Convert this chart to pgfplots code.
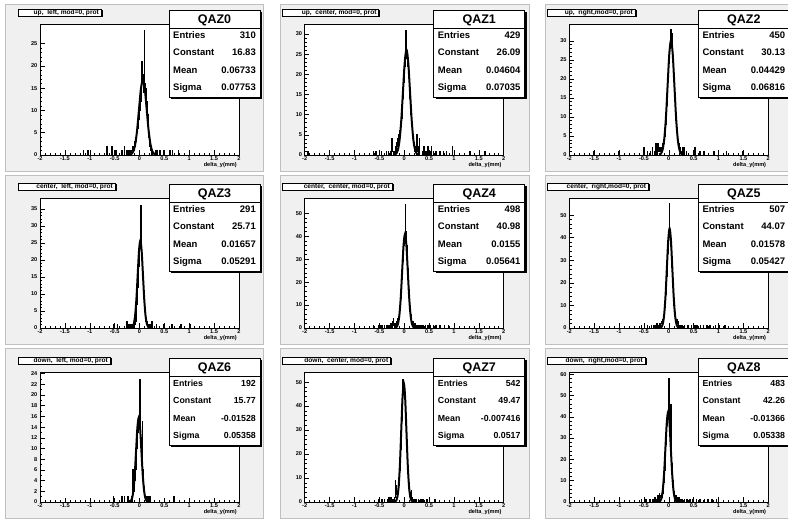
\documentclass[border=0pt]{standalone}
\usepackage{fontspec}
\setmainfont{Liberation Sans}
\usepackage{pgfplots}
\pgfplotsset{compat=1.18}
\newcommand{\titlefont}{\fontsize{6.6}{6.6}\selectfont\bfseries}
\newcommand{\headfont}{\fontsize{12.5}{12.5}\selectfont\bfseries}
\newcommand{\statfontA}{\fontsize{9.5}{9.5}\selectfont\bfseries}
\newcommand{\statfontB}{\fontsize{8.8}{8.8}\selectfont\bfseries}
\let\statfont\statfontA
\newcommand{\deco}[9]{%
 \begin{scope}[shift={(#1pt,-#2pt)}]
  \fill[black] (-20.5pt,13.5pt) rectangle ({#3pt+1.5pt},6.5pt);
  \filldraw[fill=white,draw=black,line width=0.5pt] (-22pt,15pt) rectangle (#3pt,8pt);
  \node[anchor=base east,inner sep=0pt,font=\titlefont] at ({#3pt-2pt},9.4pt) {#4};
  \fill[black] (131pt,12pt) rectangle (222pt,-75pt);
  \filldraw[fill=white,draw=black,line width=0.5pt] (129pt,14pt) rectangle (220pt,-73pt);
  \draw[line width=0.5pt] (129pt,-4pt) -- (220pt,-4pt);
  \node[anchor=base,font=\headfont,inner sep=0pt] at (174.5pt,0.3pt) {#5};
  \node[anchor=base west,font=\statfont,inner sep=0pt] at (133pt,-14.4pt) {Entries};
  \node[anchor=base east,font=\statfont,inner sep=0pt] at (216pt,-14.4pt) {#6};
  \node[anchor=base west,font=\statfont,inner sep=0pt] at (133pt,-31.9pt) {Constant};
  \node[anchor=base east,font=\statfont,inner sep=0pt] at (216pt,-31.9pt) {#7};
  \node[anchor=base west,font=\statfont,inner sep=0pt] at (133pt,-49.4pt) {Mean};
  \node[anchor=base east,font=\statfont,inner sep=0pt] at (216pt,-49.4pt) {#8};
  \node[anchor=base west,font=\statfont,inner sep=0pt] at (133pt,-66.4pt) {Sigma};
  \node[anchor=base east,font=\statfont,inner sep=0pt] at (216pt,-66.4pt) {#9};
 \end{scope}}
\pgfplotsset{
 rootaxis/.style={
  scale only axis, width=199pt, height=130pt,
  xmin=-2, xmax=2, ymin=0,
  axis background/.style={fill=white},
  axis line style={line width=0.7pt},
  tick pos=left, tick align=inside,
  xtick={-2,-1.5,-1,-0.5,0,0.5,1,1.5,2},
  xticklabels={-2,-1.5,-1,-0.5,0,0.5,1,1.5,2},
  minor x tick num=4,
  major tick length=4.5pt, minor tick length=2.2pt,
  tick style={line width=0.5pt, black},
  tick label style={font=\fontsize{5.6}{5.6}\selectfont\bfseries},
  /pgf/number format/assume math mode=true,
  xticklabel style={inner sep=0pt, yshift=-1.5pt},
  yticklabel style={inner sep=0pt, xshift=-2.5pt},
  xlabel={delta\_y(mm)},
  xlabel style={at={(rel axis cs:1,0)}, anchor=north east, yshift=-7.5pt, xshift=-2pt, inner sep=0pt, font=\fontsize{5.6}{5.6}\selectfont\bfseries},
 },
 hist/.style={const plot, black, line width=0.9pt, mark=none},
 fitc/.style={smooth, black, line width=2pt, mark=none},
}
\begin{document}
\begin{tikzpicture}
\useasboundingbox (0,0) rectangle (788pt,-521pt);
\clip (0,0) rectangle (788pt,-521pt);
\fill[white] (0,0) rectangle (788pt,-521pt);
% pads
\foreach \xa/\xb in {5/263.5,280/529,545/795}{
 \foreach \ya/\yb in {4/171,175/344,348/518}{
  \filldraw[fill=black!6,draw=black!25,line width=0.6pt] (\xa pt,-\ya pt) rectangle (\xb pt,-\yb pt);
 }}
% ---------------- QAZ0
\begin{axis}[rootaxis, at={(40pt,-24pt)}, anchor=north west, height=131pt, ymax=29.4, ytick={0,5,10,15,20,25}, minor y tick num=4]
\addplot[hist] coordinates {(-2,0) (-1.13,1) (-1.12,0) (-1.04,1) (-1.03,0) (-0.66,2) (-0.65,0) (-0.56,2) (-0.55,0) (-0.48,1) (-0.47,0) (-0.36,1) (-0.35,0) (-0.31,2) (-0.30,0) (-0.27,1) (-0.26,0) (-0.24,1) (-0.23,0)
(-0.20,1) (-0.19,0) (-0.18,1) (-0.17,0) (-0.16,1) (-0.15,1) (-0.14,2) (-0.13,1) (-0.12,2) (-0.11,1) (-0.10,3) (-0.09,2) (-0.08,4) (-0.07,3) (-0.06,5) (-0.05,7) (-0.04,6) (-0.03,9) (-0.02,8) (-0.01,11) (0.00,10) (0.01,13) (0.02,12) (0.03,15) (0.04,21) (0.05,16) (0.06,18) (0.07,17) (0.08,14) (0.09,28) (0.10,16) (0.11,13) (0.12,15) (0.13,10) (0.14,12) (0.15,8) (0.16,9) (0.17,6) (0.18,4) (0.19,5) (0.20,2) (0.21,3) (0.22,1) (0.23,2) (0.24,1) (0.25,0) (0.26,1) (0.27,0)
(0.33,1) (0.34,0) (0.36,1) (0.37,0) (0.41,1) (0.42,0) (0.48,1) (0.49,0) (0.61,1) (0.62,0) (0.66,1) (0.67,0) (0.78,1) (0.79,0) (2,0)};
\addplot[fitc] coordinates {(-0.2040,0.04) (-0.1653,0.19) (-0.1265,0.74) (-0.0877,2.28) (-0.0490,5.46) (-0.0102,10.21) (0.0286,14.85) (0.0673,16.83) (0.1061,14.85) (0.1449,10.21) (0.1836,5.46) (0.2224,2.28) (0.2612,0.74) (0.2999,0.19) (0.3387,0.04)};
\end{axis}
% ---------------- QAZ1
\begin{axis}[rootaxis, at={(304.7pt,-24pt)}, anchor=north west, height=131pt, ymax=32.5, ytick={0,5,10,15,20,25,30}, minor y tick num=4]
\addplot[hist] coordinates {(-2,0) (-1.94,1) (-1.93,0) (-0.62,1) (-0.61,0) (-0.57,1) (-0.56,0) (-0.46,1) (-0.45,0) (-0.36,1) (-0.35,0) (-0.32,1) (-0.31,0) (-0.28,1) (-0.26,0)
(-0.25,4) (-0.24,1) (-0.23,1) (-0.22,0) (-0.21,1) (-0.20,1) (-0.19,0) (-0.18,2) (-0.17,1) (-0.16,2) (-0.15,3) (-0.14,2) (-0.13,4) (-0.12,3) (-0.11,5) (-0.10,4) (-0.09,6) (-0.08,8) (-0.07,7) (-0.06,10) (-0.05,9) (-0.04,13) (-0.03,15) (-0.02,14) (-0.01,18) (0.00,20) (0.01,22) (0.02,25) (0.03,31) (0.04,27) (0.05,24) (0.06,26) (0.07,22) (0.08,21) (0.09,19) (0.10,16) (0.11,14) (0.12,12) (0.13,10) (0.14,8) (0.15,7) (0.16,5) (0.17,4) (0.18,3) (0.19,3) (0.20,2) (0.21,1) (0.22,2) (0.23,1) (0.24,0) (0.25,5) (0.26,1) (0.27,2) (0.28,0) (0.29,1) (0.30,4) (0.31,0)
(0.36,1) (0.37,0) (0.39,2) (0.40,0) (0.43,1) (0.44,0) (0.47,2) (0.48,0) (0.51,1) (0.52,0) (0.54,2) (0.55,0) (0.58,1) (0.59,0) (0.63,1) (0.64,0) (0.71,1) (0.72,0) (0.78,1) (0.79,0) (0.84,1) (0.85,0) (0.96,2) (0.97,0) (1.32,1) (1.33,0) (1.62,1) (1.63,0) (2,0)};
\addplot[fitc] coordinates {(-0.2002,0.06) (-0.1650,0.29) (-0.1298,1.15) (-0.0947,3.53) (-0.0595,8.47) (-0.0243,15.82) (0.0109,23.02) (0.0460,26.09) (0.0812,23.02) (0.1164,15.82) (0.1516,8.47) (0.1867,3.53) (0.2219,1.15) (0.2571,0.29) (0.2923,0.06)};
\end{axis}
% ---------------- QAZ2
\begin{axis}[rootaxis, at={(569.3pt,-24pt)}, anchor=north west, height=131pt, ymax=34.4, ytick={0,5,10,15,20,25,30}, minor y tick num=4]
\addplot[hist] coordinates {(-2,0) (-1.51,1) (-1.50,0) (-1.01,1) (-1.00,0) (-0.50,2) (-0.49,0) (-0.43,1) (-0.42,0) (-0.37,1) (-0.36,0) (-0.33,2) (-0.32,0) (-0.29,1) (-0.28,0)
(-0.26,3) (-0.25,1) (-0.24,0) (-0.23,2) (-0.22,3) (-0.21,1) (-0.20,2) (-0.19,1) (-0.18,1) (-0.17,2) (-0.16,1) (-0.15,1) (-0.14,2) (-0.13,3) (-0.12,2) (-0.11,3) (-0.10,3) (-0.09,5) (-0.08,5) (-0.07,7) (-0.06,8) (-0.05,10) (-0.04,13) (-0.03,16) (-0.02,19) (-0.01,21) (0.00,24) (0.01,26) (0.02,28) (0.03,29) (0.04,33) (0.05,30) (0.06,32) (0.07,27) (0.08,25) (0.09,22) (0.10,20) (0.11,17) (0.12,14) (0.13,12) (0.14,9) (0.15,8) (0.16,6) (0.17,5) (0.18,4) (0.19,3) (0.20,2) (0.21,3) (0.22,1) (0.23,2) (0.24,1) (0.25,0) (0.26,1) (0.27,2) (0.28,0)
(0.30,2) (0.31,0) (0.35,1) (0.36,0) (0.52,2) (0.53,0) (0.62,1) (0.63,0) (0.70,1) (0.71,0) (0.90,1) (0.91,0) (1.15,1) (1.16,0) (1.48,1) (1.49,0) (2,0)};
\addplot[fitc] coordinates {(-0.1943,0.07) (-0.1602,0.33) (-0.1261,1.32) (-0.0920,4.08) (-0.0580,9.78) (-0.0239,18.27) (0.0102,26.59) (0.0443,30.13) (0.0784,26.59) (0.1125,18.27) (0.1465,9.78) (0.1806,4.08) (0.2147,1.32) (0.2488,0.33) (0.2829,0.07)};
\end{axis}
% ---------------- QAZ3
\begin{axis}[rootaxis, at={(40pt,-198pt)}, anchor=north west, height=130pt, ymax=38.2, ytick={0,5,10,15,20,25,30,35}, minor y tick num=4]
\addplot[hist] coordinates {(-2,0) (-0.53,1) (-0.52,0) (-0.45,1) (-0.44,0) (-0.26,2) (-0.25,0) (-0.23,1) (-0.22,0) (-0.20,1) (-0.19,0)
(-0.16,1) (-0.15,0) (-0.14,1) (-0.13,1) (-0.12,0) (-0.11,2) (-0.10,1) (-0.09,3) (-0.08,2) (-0.07,5) (-0.06,7) (-0.05,9) (-0.04,12) (-0.03,15) (-0.02,18) (-0.01,21) (0.00,24) (0.01,25) (0.02,36) (0.03,24) (0.04,22) (0.05,19) (0.06,16) (0.07,13) (0.08,9) (0.09,7) (0.10,5) (0.11,3) (0.12,2) (0.13,3) (0.14,1) (0.15,2) (0.16,1) (0.17,0) (0.18,1) (0.19,0)
(0.22,1) (0.23,0) (0.25,2) (0.26,0) (0.34,1) (0.35,0) (0.48,1) (0.49,0) (0.64,1) (0.65,0) (0.66,1) (0.67,0) (0.83,1) (0.84,0) (1.02,1) (1.03,0) (2,0)};
\addplot[fitc] coordinates {(-0.1686,0.06) (-0.1422,0.29) (-0.1157,1.13) (-0.0893,3.48) (-0.0628,8.35) (-0.0363,15.59) (-0.0099,22.69) (0.0166,25.71) (0.0430,22.69) (0.0695,15.59) (0.0959,8.35) (0.1224,3.48) (0.1488,1.13) (0.1753,0.29) (0.2018,0.06)};
\end{axis}
% ---------------- QAZ4
\begin{axis}[rootaxis, at={(304.7pt,-198pt)}, anchor=north west, height=130pt, ymax=56.7, ytick={0,10,20,30,40,50}, minor y tick num=4]
\addplot[hist] coordinates {(-2,0) (-0.62,1) (-0.61,0) (-0.51,1) (-0.50,0) (-0.47,1) (-0.46,0) (-0.44,1) (-0.43,0) (-0.40,1) (-0.39,0) (-0.36,1) (-0.35,0) (-0.33,1) (-0.32,0) (-0.30,1) (-0.29,0) (-0.27,2) (-0.26,0) (-0.24,3) (-0.23,1) (-0.22,4) (-0.21,1) (-0.20,2) (-0.19,0)
(-0.18,1) (-0.17,2) (-0.16,1) (-0.15,3) (-0.14,2) (-0.13,4) (-0.12,3) (-0.11,5) (-0.10,6) (-0.09,8) (-0.08,10) (-0.07,13) (-0.06,17) (-0.05,21) (-0.04,25) (-0.03,29) (-0.02,33) (-0.01,36) (0.00,39) (0.01,40) (0.02,54) (0.03,42) (0.04,38) (0.05,36) (0.06,31) (0.07,26) (0.08,22) (0.09,17) (0.10,13) (0.11,10) (0.12,8) (0.13,6) (0.14,4) (0.15,3) (0.16,2) (0.17,3) (0.18,1) (0.19,2) (0.20,1) (0.21,0)
(0.22,2) (0.23,0) (0.24,1) (0.25,0) (0.27,1) (0.28,0) (0.31,1) (0.32,0) (0.35,1) (0.36,0) (0.38,1) (0.39,0) (0.42,1) (0.43,0) (0.47,1) (0.48,0) (0.52,1) (0.53,0) (0.58,1) (0.59,0) (0.63,1) (0.64,0) (0.71,1) (0.72,0) (0.80,1) (0.81,0) (0.88,1) (0.89,0) (2,0)};
\addplot[fitc] coordinates {(-0.1819,0.09) (-0.1537,0.45) (-0.1255,1.80) (-0.0973,5.54) (-0.0691,13.31) (-0.0409,24.85) (-0.0127,36.16) (0.0155,40.98) (0.0437,36.16) (0.0719,24.85) (0.1001,13.31) (0.1283,5.54) (0.1565,1.80) (0.1847,0.45) (0.2129,0.09)};
\end{axis}
% ---------------- QAZ5
\begin{axis}[rootaxis, at={(569.3pt,-198pt)}, anchor=north west, height=130pt, ymax=57.6, ytick={0,10,20,30,40,50}, minor y tick num=4]
\addplot[hist] coordinates {(-2,0) (-0.55,1) (-0.54,0) (-0.43,1) (-0.42,0) (-0.35,1) (-0.34,0) (-0.30,1) (-0.29,0) (-0.27,1) (-0.26,0) (-0.24,2) (-0.23,0) (-0.21,1) (-0.20,0) (-0.19,2) (-0.18,0)
(-0.17,1) (-0.16,2) (-0.15,2) (-0.14,3) (-0.13,2) (-0.12,4) (-0.11,3) (-0.10,6) (-0.09,7) (-0.08,9) (-0.07,12) (-0.06,15) (-0.05,19) (-0.04,23) (-0.03,27) (-0.02,33) (-0.01,37) (0.00,41) (0.01,55) (0.02,43) (0.03,40) (0.04,36) (0.05,32) (0.06,27) (0.07,22) (0.08,18) (0.09,14) (0.10,10) (0.11,8) (0.12,6) (0.13,5) (0.14,4) (0.15,3) (0.16,4) (0.17,2) (0.18,3) (0.19,1) (0.20,0)
(0.22,1) (0.23,0) (0.26,1) (0.27,0) (0.31,1) (0.32,0) (0.38,1) (0.39,0) (0.45,1) (0.46,0) (0.52,1) (0.53,0) (0.56,1) (0.57,0) (0.63,1) (0.64,0) (0.69,1) (0.70,0) (0.76,1) (0.77,0) (0.82,1) (0.83,0) (0.93,1) (0.94,0) (1.01,1) (1.02,0) (1.12,1) (1.13,0) (2,0)};
\addplot[fitc] coordinates {(-0.1742,0.10) (-0.1470,0.49) (-0.1199,1.93) (-0.0928,5.96) (-0.0656,14.31) (-0.0385,26.73) (-0.0114,38.89) (0.0158,44.07) (0.0429,38.89) (0.0701,26.73) (0.0972,14.31) (0.1243,5.96) (0.1515,1.93) (0.1786,0.49) (0.2057,0.10)};
\end{axis}
% ---------------- QAZ6
\begin{axis}[rootaxis, at={(40pt,-372pt)}, anchor=north west, height=130pt, ymax=24.3, ytick={0,2,4,6,8,10,12,14,16,18,20,22,24}, minor y tick num=1]
\addplot[hist] coordinates {(-2,0) (-0.53,1) (-0.52,0) (-0.36,1) (-0.34,0) (-0.31,1) (-0.30,0) (-0.24,1) (-0.23,0)
(-0.17,1) (-0.16,0) (-0.15,1) (-0.14,6) (-0.13,2) (-0.12,3) (-0.11,2) (-0.10,4) (-0.09,5) (-0.08,6) (-0.07,8) (-0.06,10) (-0.05,12) (-0.04,13) (-0.03,15) (-0.02,14) (-0.01,16) (0.00,23) (0.01,13) (0.02,12) (0.03,10) (0.04,8) (0.05,15) (0.06,6) (0.07,4) (0.08,3) (0.09,2) (0.10,1) (0.11,1) (0.12,1) (0.13,0) (0.14,1) (0.15,1) (0.16,0)
(0.18,1) (0.19,0) (0.20,1) (0.21,0) (0.22,1) (0.23,0) (0.69,1) (0.70,0) (2,0)};
\addplot[fitc] coordinates {(-0.2028,0.03) (-0.1760,0.18) (-0.1492,0.69) (-0.1224,2.13) (-0.0957,5.12) (-0.0689,9.56) (-0.0421,13.92) (-0.0153,15.77) (0.0115,13.92) (0.0383,9.56) (0.0651,5.12) (0.0919,2.13) (0.1187,0.69) (0.1455,0.18) (0.1723,0.03)};
\end{axis}
% ---------------- QAZ7
\begin{axis}[rootaxis, at={(304.7pt,-372pt)}, anchor=north west, height=130pt, ymax=54.2, ytick={0,10,20,30,40,50}, minor y tick num=4]
\addplot[hist] coordinates {(-2,0) (-0.52,1) (-0.51,0) (-0.45,1) (-0.44,0) (-0.40,1) (-0.39,0) (-0.34,1) (-0.33,0) (-0.31,2) (-0.30,0) (-0.27,2) (-0.26,0) (-0.24,1) (-0.23,0) (-0.22,1) (-0.21,0)
(-0.19,2) (-0.18,9) (-0.17,4) (-0.16,7) (-0.15,3) (-0.14,3) (-0.13,4) (-0.12,5) (-0.11,7) (-0.10,9) (-0.09,13) (-0.08,17) (-0.07,22) (-0.06,28) (-0.05,34) (-0.04,42) (-0.03,51) (-0.02,50) (-0.01,46) (0.00,47) (0.01,44) (0.02,41) (0.03,36) (0.04,31) (0.05,25) (0.06,20) (0.07,15) (0.08,11) (0.09,8) (0.10,5) (0.11,4) (0.12,2) (0.13,2) (0.14,5) (0.15,1) (0.16,2) (0.17,1) (0.18,0)
(0.19,1) (0.20,0) (0.21,1) (0.22,0) (0.24,1) (0.25,0) (0.28,1) (0.29,0) (0.33,1) (0.34,0) (0.37,1) (0.38,0) (0.45,1) (0.46,0) (0.61,1) (0.62,0) (2,0)};
\addplot[fitc] coordinates {(-0.1884,0.11) (-0.1625,0.55) (-0.1367,2.17) (-0.1108,6.69) (-0.0850,16.06) (-0.0591,30.00) (-0.0333,43.66) (-0.0074,49.47) (0.0184,43.66) (0.0443,30.00) (0.0701,16.06) (0.0960,6.69) (0.1218,2.17) (0.1477,0.55) (0.1735,0.11)};
\end{axis}
% ---------------- QAZ8
\begin{axis}[rootaxis, at={(569.3pt,-372pt)}, anchor=north west, height=130pt, ymax=61, ytick={0,10,20,30,40,50,60}, minor y tick num=4]
\addplot[hist] coordinates {(-2,0) (-0.55,1) (-0.54,0) (-0.46,1) (-0.45,0) (-0.38,1) (-0.37,0) (-0.32,1) (-0.31,0) (-0.28,2) (-0.27,0) (-0.25,1) (-0.24,0) (-0.22,3) (-0.21,1) (-0.20,0)
(-0.19,4) (-0.18,2) (-0.17,3) (-0.16,2) (-0.15,3) (-0.14,2) (-0.13,3) (-0.12,4) (-0.11,6) (-0.10,9) (-0.09,12) (-0.08,15) (-0.07,20) (-0.06,27) (-0.05,32) (-0.04,36) (-0.03,40) (-0.02,41) (-0.01,40) (0.00,58) (0.01,39) (0.02,36) (0.03,32) (0.04,46) (0.05,23) (0.06,18) (0.07,13) (0.08,10) (0.09,7) (0.10,5) (0.11,4) (0.12,3) (0.13,2) (0.14,3) (0.15,1) (0.16,2) (0.17,1) (0.18,0)
(0.20,2) (0.21,0) (0.22,1) (0.23,0) (0.26,1) (0.27,0) (0.31,1) (0.32,0) (0.36,1) (0.37,0) (0.42,1) (0.43,0) (0.48,1) (0.49,0) (0.55,1) (0.56,0) (0.62,1) (0.63,0) (0.71,1) (0.72,0) (0.78,1) (0.79,0) (0.86,1) (0.87,0) (0.95,1) (0.96,0) (2,0)};
\addplot[fitc] coordinates {(-0.2005,0.09) (-0.1738,0.47) (-0.1471,1.86) (-0.1204,5.72) (-0.0937,13.72) (-0.0671,25.63) (-0.0404,37.29) (-0.0137,42.26) (0.0130,37.29) (0.0397,25.63) (0.0664,13.72) (0.0931,5.72) (0.1198,1.86) (0.1465,0.47) (0.1732,0.09)};
\end{axis}
% ---------------- boxes
\deco{40}{24}{61}{up,\ \ left, mod=0, prot}{QAZ0}{310}{16.83}{0.06733}{0.07753}
\deco{304.7}{24}{74}{up,\ \ center, mod=0, prot}{QAZ1}{429}{26.09}{0.04604}{0.07035}
\deco{569.3}{24}{65.7}{up,\ \ right,mod=0, prot}{QAZ2}{450}{30.13}{0.04429}{0.06816}
\deco{40}{198}{75}{center,\ \ left, mod=0, prot}{QAZ3}{291}{25.71}{0.01657}{0.05291}
\deco{304.7}{198}{87.3}{center,\ \ center, mod=0, prot}{QAZ4}{498}{40.98}{0.0155}{0.05641}
\deco{569.3}{198}{79}{center,\ \ right,mod=0, prot}{QAZ5}{507}{44.07}{0.01578}{0.05427}
\let\statfont\statfontB
\deco{40}{372}{70}{down,\ \ left, mod=0, prot}{QAZ6}{192}{15.77}{-0.01528}{0.05358}
\deco{304.7}{372}{85.7}{down,\ \ center, mod=0, prot}{QAZ7}{542}{49.47}{-0.007416}{0.0517}
\deco{569.3}{372}{75.7}{down,\ \ right,mod=0, prot}{QAZ8}{483}{42.26}{-0.01366}{0.05338}
\end{tikzpicture}
\end{document}
